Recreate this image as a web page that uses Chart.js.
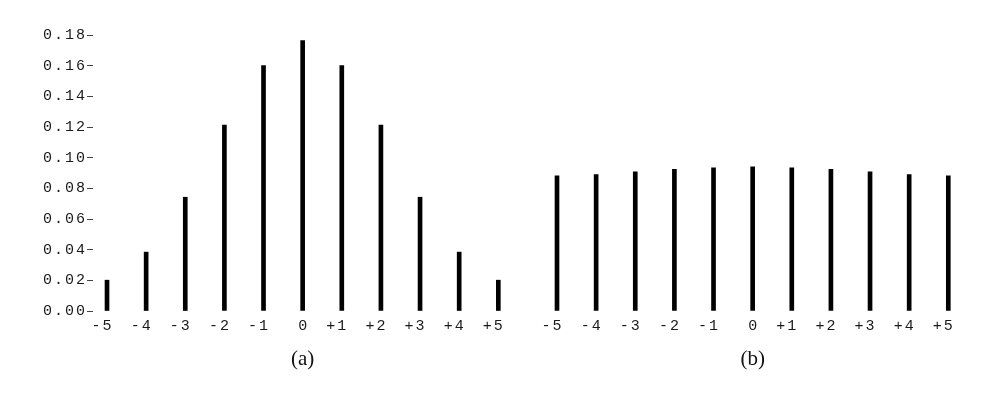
<!DOCTYPE html>
<html>
<head>
<meta charset="utf-8">
<script src="https://cdn.jsdelivr.net/npm/chart.js@4/dist/chart.umd.min.js"></script>
<style>
  html, body { margin: 0; padding: 0; background: #ffffff; }
  #wrap { position: relative; width: 996px; height: 402px; }
</style>
</head>
<body>
<div id="wrap"><canvas id="c" width="996" height="402"></canvas></div>
<script>
// ---- data ----
const categories = ['-5', '-4', '-3', '-2', '-1', '0', '+1', '+2', '+3', '+4', '+5'];
const seriesA = [0.0201, 0.0384, 0.0742, 0.1212, 0.1600, 0.1764, 0.1600, 0.1212, 0.0742, 0.0384, 0.0201];
const seriesB = [0.0882, 0.0889, 0.0907, 0.0924, 0.0934, 0.0940, 0.0934, 0.0924, 0.0907, 0.0889, 0.0882];
const panelLabels = ['(a)', '(b)'];
const yMin = 0, yMax = 0.18, yStep = 0.02;

// ---- layout helpers (not data) ----
const panelOffset = 11.5;               // gap between the two panels, in category units
const catValue = (i) => i - 5;          // category index -> numeric position
const posA = categories.map((_, i) => catValue(i));
const posB = categories.map((_, i) => catValue(i) + panelOffset);

const MONO = '"Liberation Mono", "Courier New", monospace';
const LS = '2px';

function setSpacing(chart) {
  chart.ctx.letterSpacing = LS;
}

const spacingPlugin = {
  id: 'spacing',
  beforeUpdate: setSpacing,
  beforeLayout: setSpacing,
  beforeDraw: setSpacing,
  afterDraw(chart) {
    const ctx = chart.ctx;
    const xs = chart.scales.x;
    ctx.save();
    ctx.letterSpacing = '0px';
    ctx.fillStyle = '#111';
    ctx.font = '21px "Liberation Serif", "Times New Roman", serif';
    ctx.textAlign = 'center';
    ctx.textBaseline = 'middle';
    ctx.fillText(panelLabels[0], xs.getPixelForValue(0), 359);
    ctx.fillText(panelLabels[1], xs.getPixelForValue(panelOffset), 359);
    ctx.restore();
  }
};

function tickLabel(v) {
  let idx;
  if (v <= 5.5) { idx = Math.round(v + 5); }
  else { idx = Math.round(v - panelOffset + 5); }
  const s = categories[idx];
  if (s === undefined) return '';
  return (s.length === 1 ? ' ' + s : s) + ' ';
}

new Chart(document.getElementById('c'), {
  type: 'bar',
  data: {
    datasets: [
      {
        data: seriesA.map((y, i) => ({ x: posA[i], y })),
        backgroundColor: '#000',
        barThickness: 4,
        grouped: false
      },
      {
        data: seriesB.map((y, i) => ({ x: posB[i], y })),
        backgroundColor: '#000',
        barThickness: 4,
        grouped: false
      }
    ]
  },
  plugins: [spacingPlugin],
  options: {
    responsive: false,
    animation: false,
    devicePixelRatio: 1,
    layout: { padding: { top: 35, right: 34, bottom: 0, left: 0 } },
    plugins: { legend: { display: false }, tooltip: { enabled: false } },
    scales: {
      x: {
        type: 'linear',
        offset: false,
        min: -5.358,
        max: 16.85,
        grid: { display: false, drawTicks: false, offset: false },
        border: { display: false },
        afterBuildTicks(axis) {
          axis.ticks = posA.concat(posB).map(v => ({ value: v }));
        },
        afterFit(axis) { axis.height = 91; },
        ticks: {
          autoSkip: false,
          maxRotation: 0,
          padding: 6,
          labelOffset: 1,
          color: '#1a1a1a',
          font: { family: MONO, size: 15 },
          callback: (v) => tickLabel(v)
        }
      },
      y: {
        min: yMin,
        max: yMax,
        grid: { drawOnChartArea: false, drawTicks: true, tickLength: 6, color: '#444', lineWidth: 1 },
        border: { display: false },
        afterFit(axis) { axis.width = 93; },
        ticks: {
          stepSize: yStep,
          padding: 0,
          color: '#1a1a1a',
          font: { family: MONO, size: 15 },
          callback: (v) => Number(v).toFixed(2)
        }
      }
    }
  }
});
</script>
</body>
</html>
